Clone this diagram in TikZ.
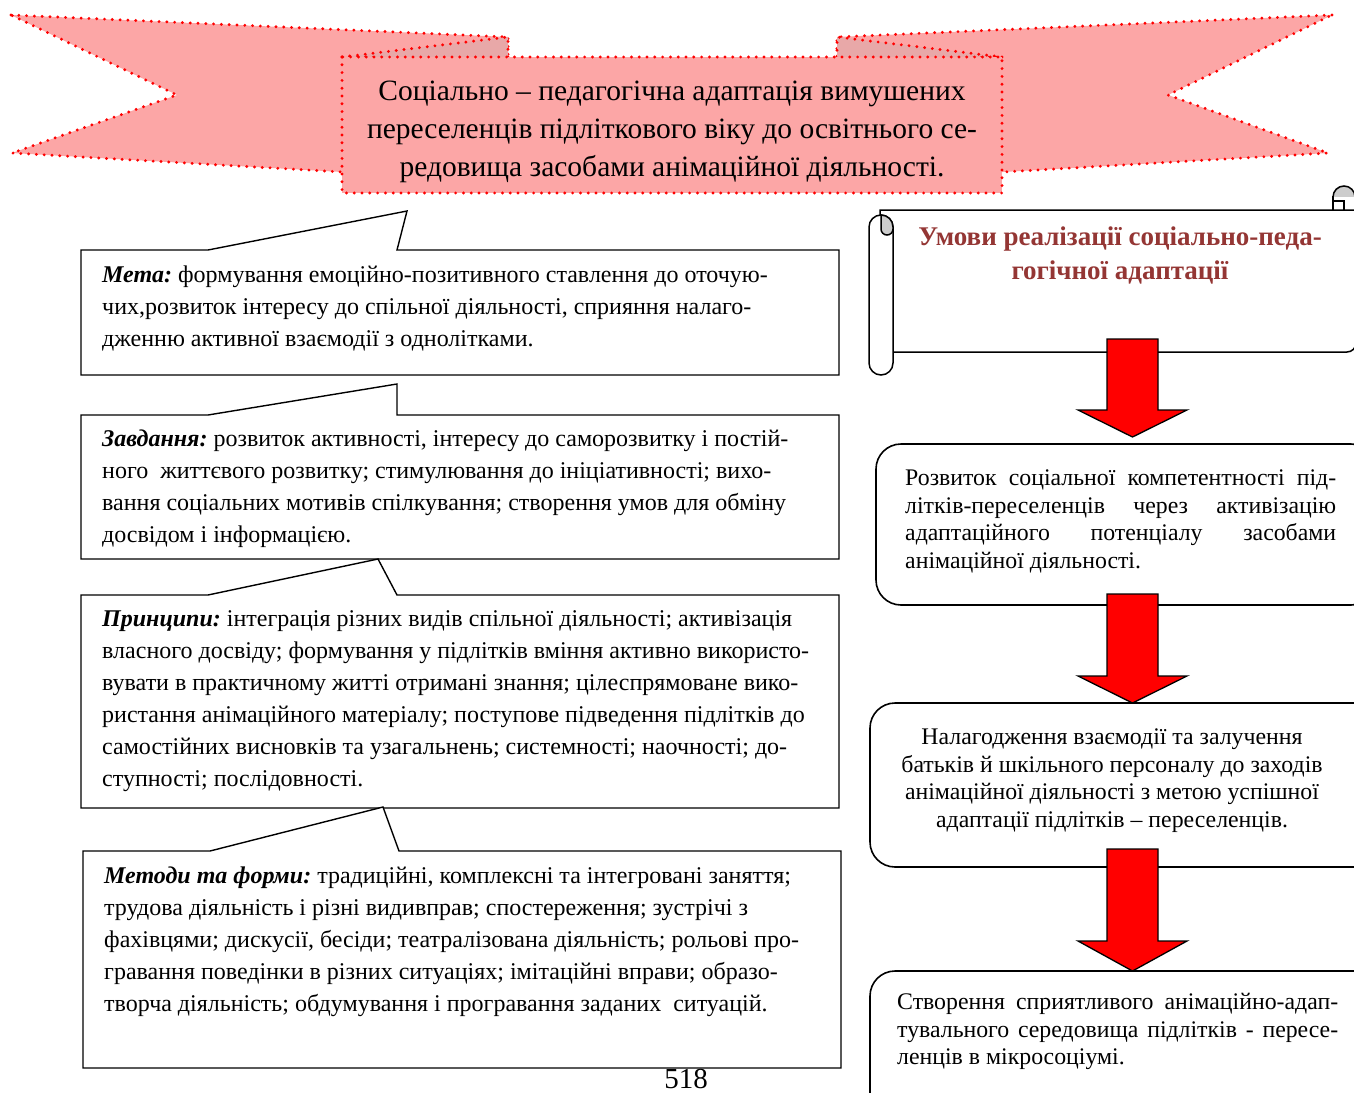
\documentclass[tikz,border=0pt]{standalone}
\usepackage{fontspec}
\setmainfont{Liberation Serif}
\usetikzlibrary{calc}
\frenchspacing
\definecolor{ribbonfill}{RGB}{252,166,166}
\definecolor{ribbonfold}{RGB}{232,168,168}
\definecolor{titlered}{RGB}{148,54,52}
\definecolor{rollgray}{RGB}{204,204,204}
\newcommand\blockdownarrow[3]{%
  \draw[blockarrow] (1107,#1) -- (1158,#1) -- (1158,#2) -- (1187,#2) -- (1132.5,#3) -- (1078,#2) -- (1107,#2) -- cycle;}
\begin{document}
\begin{tikzpicture}[x=1pt,y=-1pt,
  dotborder/.style={draw=red, line width=3.2pt, dash pattern=on 0pt off 7.8pt, line cap=round, line join=round},
  callout/.style={draw=black, line width=1.4pt, fill=white, line join=miter},
  condbox/.style={draw=black, line width=1.6pt, fill=white, rounded corners=25pt, inner sep=0pt, outer sep=0pt, anchor=north west},
  blockarrow/.style={draw=black, line width=1.3pt, fill=red, line join=miter},
  lefttext/.style={anchor=north west, inner sep=0pt, align=left, font=\fontsize{24}{32}\selectfont},
  righttext/.style={anchor=north west, inner sep=0pt, align=left, font=\fontsize{23.8}{27.8}\selectfont},
  rightctext/.style={anchor=north, inner sep=0pt, align=center, font=\fontsize{23.8}{27.8}\selectfont},
  scrollline/.style={draw=black, line width=1.5pt}
]
\useasboundingbox (0,0) rectangle (1354,1092);
\clip (0,0) rectangle (1354,1092);

% ---------------- ribbon banner ----------------
\filldraw[fill=ribbonfill, dotborder] (11,15) -- (508,37) -- (508,175) -- (342,172) -- (12,153) -- (177,95) -- cycle;
\filldraw[fill=ribbonfill, dotborder] (1332,15) -- (837,37) -- (837,175) -- (1003,172) -- (1328,153) -- (1168,95) -- cycle;
\filldraw[fill=ribbonfold, dotborder] (342,57) -- (508,37) -- (508,62) -- cycle;
\filldraw[fill=ribbonfold, dotborder] (1002,57) -- (837,37) -- (837,62) -- cycle;
\filldraw[fill=ribbonfill, dotborder] (342,57) rectangle (1002,193);
\node[anchor=north, inner sep=0pt, align=center, font=\fontsize{29.5}{38}\selectfont] (title) at (672,68)
  {\rule{0pt}{32pt}Соціально – педагогічна адаптація вимушених\\
   переселенців підліткового віку до освітнього се-\\
   редовища засобами анімаційної діяльності.};

% ---------------- callout boxes ----------------
\draw[callout] (81,250) -- (208,250) -- (407,211) -- (397,250) -- (839,250) -- (839,375) -- (81,375) -- cycle;
\draw[callout] (81,415) -- (208,415) -- (397,384) -- (397,415) -- (839,415) -- (839,559) -- (81,559) -- cycle;
\draw[callout] (81,595) -- (208,595) -- (378,559) -- (397,595) -- (839,595) -- (839,808) -- (81,808) -- cycle;
\draw[callout] (83,851) -- (210,851) -- (383,807) -- (399,851) -- (841,851) -- (841,1068) -- (83,1068) -- cycle;

\node[lefttext] (meta) at (102,256)
  {\rule{0pt}{26pt}\textbf{\textit{Мета:}} формування емоційно-позитивного ставлення до оточую-\\
   чих,розвиток інтересу до спільної діяльності, сприяння налаго-\\
   дженню активної взаємодії з однолітками.};
\node[lefttext] (zavd) at (102,420)
  {\rule{0pt}{26pt}\textbf{\textit{Завдання:}} розвиток активності, інтересу до саморозвитку і постій-\\
   ного\ \ життєвого розвитку; стимулювання до ініціативності; вихо-\\
   вання соціальних мотивів спілкування; створення умов для обміну\\
   досвідом і інформацією.};
\node[lefttext] (princ) at (102,600)
  {\rule{0pt}{26pt}\textbf{\textit{Принципи:}} інтеграція різних видів спільної діяльності; активізація\\
   власного досвіду; формування у підлітків вміння активно використо-\\
   вувати в практичному житті отримані знання; цілеспрямоване вико-\\
   ристання анімаційного матеріалу; поступове підведення підлітків до\\
   самостійних висновків та узагальнень; системності; наочності; до-\\
   ступності; послідовності.};
\node[lefttext] (metody) at (104,857)
  {\rule{0pt}{26pt}\textbf{\textit{Методи та форми:}} традиційні, комплексні та інтегровані заняття;\\
   трудова діяльність і різні видивправ; спостереження; зустрічі з\\
   фахівцями; дискусії, бесіди; театралізована діяльність; рольові про-\\
   гравання поведінки в різних ситуаціях; імітаційні вправи; образо-\\
   творча діяльність; обдумування і програвання заданих\ \ ситуацій.};

% ---------------- scroll ----------------
\draw[scrollline, fill=white] (880,210) -- (1356,210) [rounded corners=9pt] -- (1356,352) [sharp corners] -- (880,352) -- cycle;
\draw[scrollline, fill=white, rounded corners=12pt] (869,215) rectangle (893,375);
\filldraw[scrollline, fill=rollgray] (881,229) -- (881,215) arc[start angle=-90, end angle=0, radius=12] -- (893,229) arc[start angle=0, end angle=180, radius=6] -- cycle;
\filldraw[scrollline, fill=rollgray] (1344,197) circle (11);
\fill[white] (1333,197) rectangle (1360,209);
\draw[scrollline] (1333,196) -- (1333,210);
\draw[scrollline] (1333,201) -- (1344,201) -- (1344,210);
\node[anchor=north, inner sep=0pt, align=center, text=titlered, font=\fontsize{27}{34}\selectfont\bfseries] (cond) at (1120,215)
  {\rule{0pt}{30pt}Умови реалізації соціально-педа-\\гогічної адаптації};

% ---------------- condition boxes ----------------
\node[condbox, minimum width=500pt, minimum height=161pt] (c1) at (876,444) {};
\node[condbox, minimum width=510pt, minimum height=164pt] (c2) at (870,703) {};
\node[condbox, minimum width=510pt, minimum height=160pt] (c3) at (870,971) {};

\node[righttext] (t1) at (905,459)
  {\rule{0pt}{26pt}\makebox[431pt][s]{Розвиток соціальної компетентності під-}\\
   \makebox[431pt][s]{літків-переселенців через активізацію}\\
   \makebox[431pt][s]{адаптаційного потенціалу засобами}\\
   анімаційної діяльності.};
\node[rightctext] (t2) at (1112,718)
  {\rule{0pt}{26pt}Налагодження взаємодії та залучення\\
   батьків й шкільного персоналу до заходів\\
   анімаційної діяльності з метою успішної\\
   адаптації підлітків – переселенців.};
\node[righttext] (t3) at (897,983)
  {\rule{0pt}{26pt}\makebox[441pt][s]{Створення сприятливого анімаційно-адап-}\\
   \makebox[441pt][s]{тувального середовища підлітків - пересе-}\\
   ленців в мікросоціумі.};

% ---------------- arrows ----------------
\blockdownarrow{339}{410}{437}
\blockdownarrow{594}{676}{703}
\blockdownarrow{849}{941}{971}

% ---------------- page number ----------------
\node[anchor=base, inner sep=0pt, font=\fontsize{29}{31}\selectfont] (pagenum) at (686,1088) {518};
\end{tikzpicture}
\end{document}
